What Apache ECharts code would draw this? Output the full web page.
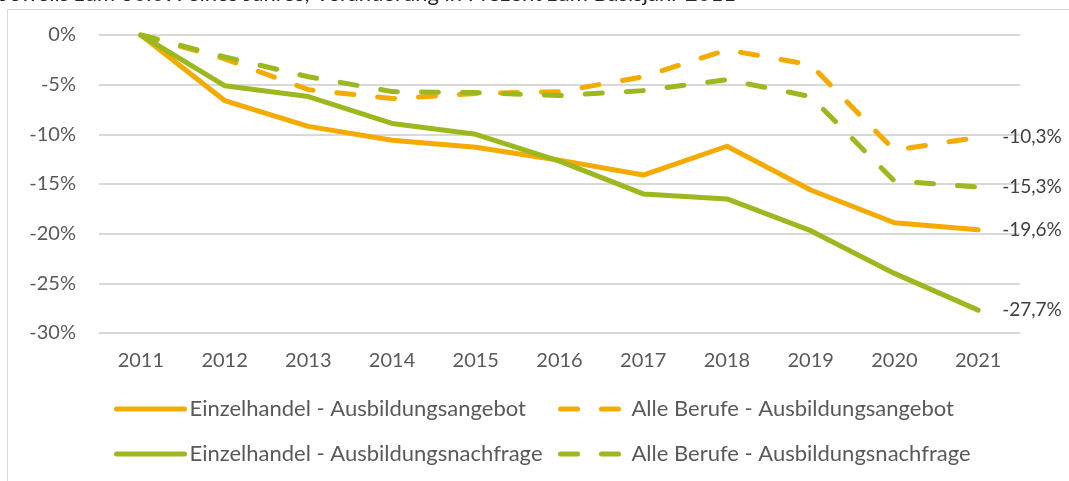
<!DOCTYPE html>
<html>
<head>
<meta charset="utf-8">
<script src="https://cdn.jsdelivr.net/npm/echarts@6/dist/echarts.min.js"></script>
<style>
    html, body { margin: 0; padding: 0; background: #fff; }
    #chart { width: 1069px; height: 481px; }
</style>
</head>
<body>
<div id="chart"></div>
<script>
const years = ['2011', '2012', '2013', '2014', '2015', '2016', '2017', '2018', '2019', '2020', '2021'];
const yTicks = [-30, -25, -20, -15, -10, -5, 0];

// Veränderung in Prozent zum Basisjahr 2011
const ehAngebot = [0, -6.6, -9.2, -10.6, -11.3, -12.6, -14.1, -11.2, -15.6, -18.9, -19.6];
const ehNachfrage = [0, -5.1, -6.2, -8.9, -10.0, -12.7, -16.0, -16.5, -19.7, -24.0, -27.7];
const alleAngebot = [0, -2.4, -5.5, -6.4, -5.9, -5.7, -4.2, -1.5, -3.0, -11.6, -10.3];
const alleNachfrage = [0, -2.2, -4.2, -5.7, -5.8, -6.1, -5.6, -4.5, -6.2, -14.7, -15.3];

const orange = '#F5AA00';
const green = '#9BB81F';
const font = 'Lato, "Liberation Sans", sans-serif';
const dash = [17, 24];

const chart = echarts.init(document.getElementById('chart'));

const endLabel = {
    show: true,
    distance: 24,
    color: '#404040',
    fontFamily: font,
    fontSize: 19,
    formatter: (p) => String(p.value).replace('.', ',') + '%'
};

function line(name, data, color, dashed) {
    return {
        name: name,
        type: 'line',
        data: data,
        symbol: 'none',
        lineStyle: { color: color, width: 5, type: dashed ? dash : 'solid', cap: 'round', join: 'round' },
        itemStyle: { color: color },
        endLabel: endLabel,
        z: dashed ? 2 : 3
    };
}

// legend symbol made transparent, only the line icon stays
const legendBase = {
    orient: 'vertical',
    top: 398,
    padding: 0,
    itemHeight: 5,
    itemGap: 23,
    itemStyle: { color: 'rgba(0,0,0,0)', borderWidth: 0 },
    textStyle: { color: '#595959', fontFamily: font, fontSize: 22 }
};

const option = {
    animation: false,
    graphic: [
        {
            type: 'rect',
            shape: { x: 7.5, y: 9.5, width: 1100, height: 500 },
            style: { fill: 'none', stroke: '#D9D9D9', lineWidth: 1 },
            silent: true
        },
        {
            type: 'text',
            left: 0,
            top: -17,
            style: {
                text: 'Jeweils zum 30.09. eines Jahres, Veränderung in Prozent zum Basisjahr 2011',
                fontFamily: font,
                fontSize: 22,
                fill: '#262626'
            }
        }
    ],
    grid: { left: 99, right: 49, top: 35, bottom: 148 },
    xAxis: {
        type: 'category',
        data: years,
        boundaryGap: true,
        axisLine: { show: false, onZero: false },
        axisTick: { show: false },
        axisLabel: { color: '#595959', fontFamily: font, fontSize: 20, margin: 18 }
    },
    yAxis: {
        type: 'value',
        min: yTicks[0],
        max: yTicks[yTicks.length - 1],
        interval: 5,
        axisLabel: { color: '#595959', fontFamily: font, fontSize: 20, margin: 23, formatter: '{value}%' },
        splitLine: { lineStyle: { color: '#D9D9D9', width: 2 } }
    },
    legend: [
        Object.assign({}, legendBase, {
            data: ['Einzelhandel - Ausbildungsangebot', 'Einzelhandel - Ausbildungsnachfrage'],
            left: 114,
            itemWidth: 68,
            lineStyle: { width: 5, type: 'solid', cap: 'round' }
        }),
        Object.assign({}, legendBase, {
            data: ['Alle Berufe - Ausbildungsangebot', 'Alle Berufe - Ausbildungsnachfrage'],
            left: 558,
            itemWidth: 66,
            lineStyle: { width: 5, type: dash, cap: 'round' }
        })
    ],
    series: [
        line('Einzelhandel - Ausbildungsangebot', ehAngebot, orange, false),
        line('Alle Berufe - Ausbildungsangebot', alleAngebot, orange, true),
        line('Einzelhandel - Ausbildungsnachfrage', ehNachfrage, green, false),
        line('Alle Berufe - Ausbildungsnachfrage', alleNachfrage, green, true)
    ]
};

chart.setOption(option);
</script>
</body>
</html>
